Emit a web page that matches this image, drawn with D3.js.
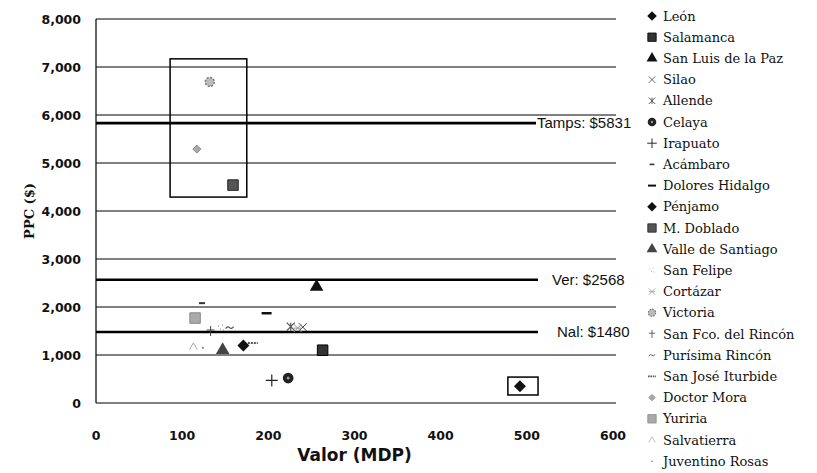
<!DOCTYPE html>
<html><head><meta charset="utf-8">
<script src="https://cdn.jsdelivr.net/npm/d3@7"></script>
<style>
html,body{margin:0;padding:0;background:#fff;}
svg{display:block;}
</style></head>
<body><svg id="c" width="817" height="473"></svg>
<script>
// ---- data ----
const municipios = ["León","Salamanca","San Luis de la Paz","Silao","Allende","Celaya","Irapuato","Acámbaro","Dolores Hidalgo","Pénjamo","M. Doblado","Valle de Santiago","San Felipe","Cortázar","Victoria","San Fco. del Rincón","Purísima Rincón","San José Iturbide","Doctor Mora","Yuriria","Salvatierra","Juventino Rosas"];
const valorMDP = [492,263,256,240,226,223,204,123,198,171,159,147,145,234,132,133,155,182,117,115,113,124];
const ppc      = [350,1100,2420,1580,1590,520,470,2080,1870,1200,4540,1100,1560,1560,6690,1500,1570,1250,5290,1770,1170,1150];
const marcadores = ["diamond","squareDark","triangle","x","asterisk","circle","plus","dashSmall","dash","diamond","squarePat","triangleGray","dots","asteriskLight","gear","plusThin","tilde","dashDot","diamondLight","squareLight","triSmall","dot"];
const xTicks = [0,100,200,300,400,500,600];
const yTicks = [0,1000,2000,3000,4000,5000,6000,7000,8000];
const refNames  = ["Tamps","Ver","Nal"];
const refValues = [5831,2568,1480];
const refLabels = ["Tamps: $5831","Ver: $2568","Nal: $1480"];
const highlightBoxes = [{x0:86,x1:175,y0:4290,y1:7170},{x0:478,x1:513,y0:167,y1:540}];

// ---- layout ----
const svg = d3.select("#c");
const x = d3.scaleLinear().domain([0,600]).range([96,613]);
const y = d3.scaleLinear().domain([0,8000]).range([403,19]);

// gridlines
svg.append("g").selectAll("line").data(yTicks).join("line")
  .attr("x1",x(0)).attr("x2",x(600)+3)
  .attr("y1",d=>y(d)).attr("y2",d=>y(d))
  .attr("stroke","#000").attr("stroke-width",1);

// y axis line
svg.append("line").attr("x1",x(0)).attr("x2",x(0)).attr("y1",y(8000)).attr("y2",y(0))
  .attr("stroke","#000").attr("stroke-width",1.2);

// y tick labels
svg.append("g").selectAll("text").data(yTicks).join("text")
  .attr("x",81).attr("y",d=>y(d)+4.5)
  .attr("text-anchor","end")
  .attr("font-family","DejaVu Sans").attr("font-weight","bold").attr("font-size",12.5)
  .attr("fill","#111")
  .text(d=>d3.format(",")(d));

// x tick labels
svg.append("g").selectAll("text").data(xTicks).join("text")
  .attr("x",d=>x(d)).attr("y",440)
  .attr("text-anchor","middle")
  .attr("font-family","DejaVu Sans").attr("font-weight","bold").attr("font-size",12.5)
  .attr("fill","#111")
  .text(d=>d);

// axis titles
svg.append("text").attr("x",(x(0)+x(600))/2).attr("y",461).attr("text-anchor","middle")
  .attr("font-family","DejaVu Sans").attr("font-weight","bold").attr("font-size",17)
  .attr("fill","#111").text("Valor (MDP)");
svg.append("text").attr("transform","translate(34,"+y(4000)+") rotate(-90)")
  .attr("text-anchor","middle")
  .attr("font-family","DejaVu Serif").attr("font-weight","bold").attr("font-size",13)
  .attr("fill","#111").text("PPC ($)");

// reference lines
const refEnd = [536,538,538];
const refLabelX = [537,552,557];
svg.append("g").selectAll("line").data(refValues).join("line")
  .attr("x1",x(0)).attr("x2",(d,i)=>refEnd[i])
  .attr("y1",d=>y(d)).attr("y2",d=>y(d))
  .attr("stroke","#000").attr("stroke-width",2.6);
svg.append("g").selectAll("text").data(refValues).join("text")
  .attr("x",(d,i)=>refLabelX[i]).attr("y",d=>y(d)+5)
  .attr("font-family","Liberation Sans").attr("font-size",15).attr("fill","#111")
  .text((d,i)=>refLabels[i]);

// highlight boxes
svg.append("g").selectAll("rect").data(highlightBoxes).join("rect")
  .attr("x",d=>x(d.x0)).attr("y",d=>y(d.y1))
  .attr("width",d=>x(d.x1)-x(d.x0)).attr("height",d=>y(d.y0)-y(d.y1))
  .attr("fill","none").attr("stroke","#000").attr("stroke-width",1.5);

// marker drawing
function drawMarker(g, type){
  const sym = (t,s)=>d3.symbol().type(t).size(s)();
  switch(type){
    case "diamond": g.append("path").attr("d","M0,-6L6,0L0,6L-6,0Z").attr("fill","#111"); break;
    case "squareDark": g.append("path").attr("d",sym(d3.symbolSquare,110)).attr("fill","#333").attr("stroke","#000"); break;
    case "squarePat": g.append("path").attr("d",sym(d3.symbolSquare,110)).attr("fill","#555").attr("stroke","#222"); break;
    case "squareLight": g.append("path").attr("d",sym(d3.symbolSquare,110)).attr("fill","#aaa").attr("stroke","#888"); break;
    case "triangle": g.append("path").attr("d",sym(d3.symbolTriangle,80)).attr("fill","#111"); break;
    case "triangleGray": g.append("path").attr("d",sym(d3.symbolTriangle,80)).attr("fill","#444"); break;
    case "triSmall": g.append("path").attr("d","M-4,3L0,-4L4,3").attr("fill","none").attr("stroke","#aaa").attr("stroke-width",1); break;
    case "x": g.append("path").attr("d","M-4,-4L4,4M-4,4L4,-4").attr("stroke","#444").attr("stroke-width",1); break;
    case "asterisk": g.append("path").attr("d","M-4,-4L4,4M-4,4L4,-4M0,-4V4").attr("stroke","#555").attr("stroke-width",1.2); break;
    case "asteriskLight": g.append("path").attr("d","M-4,-4L4,4M-4,4L4,-4M-4,0H4").attr("stroke","#999").attr("stroke-width",1); break;
    case "circle": g.append("path").attr("d",sym(d3.symbolCircle,90)).attr("fill","#222");
                   g.append("circle").attr("r",1.5).attr("fill","#999"); break;
    case "plus": g.append("path").attr("d","M-6,0H6M0,-6V6").attr("stroke","#222").attr("stroke-width",1.2); break;
    case "plusThin": g.append("path").attr("d","M-4,-1H4M0,-5V5").attr("stroke","#444").attr("stroke-width",1); break;
    case "dashSmall": g.append("path").attr("d","M-3,0H3").attr("stroke","#333").attr("stroke-width",2); break;
    case "dash": g.append("path").attr("d","M-5,0H5").attr("stroke","#111").attr("stroke-width",2.5); break;
    case "dashDot": g.append("path").attr("d","M-5,0H5").attr("stroke","#555").attr("stroke-width",2).attr("stroke-dasharray","2,1"); break;
    case "dots": g.append("path").attr("d","M-3,-2h1M1,-3h1M-1,1h1M2,2h1").attr("stroke","#999").attr("stroke-width",1.2); break;
    case "gear": g.append("circle").attr("r",4.5).attr("fill","#bbb").attr("stroke","#777").attr("stroke-width",1.5).attr("stroke-dasharray","2,1.5"); break;
    case "tilde": g.append("path").attr("d","M-4,1Q-2,-2 0,0T4,-1").attr("fill","none").attr("stroke","#555").attr("stroke-width",1.2); break;
    case "diamondLight": g.append("path").attr("d","M0,-4L4,0L0,4L-4,0Z").attr("fill","#aaa").attr("stroke","#888"); break;
    case "dot": g.append("circle").attr("r",1).attr("fill","#777"); break;
  }
}

// points
const pts = svg.append("g");
municipios.forEach((m,i)=>{
  const g = pts.append("g").attr("transform","translate("+x(valorMDP[i])+","+y(ppc[i])+")");
  drawMarker(g, marcadores[i]);
});

// legend
const lg = svg.append("g");
const legY0 = 16, legStep = 21.2;
municipios.forEach((m,i)=>{
  const yy = legY0 + i*legStep;
  const g = lg.append("g").attr("transform","translate(652,"+yy+")");
  const mg = g.append("g").attr("transform","scale(0.8)");
  drawMarker(mg, marcadores[i]);
  g.append("text").attr("x",11).attr("y",4.5)
   .attr("font-family","DejaVu Serif").attr("font-size",13).attr("fill","#111")
   .text(m);
});
</script>
</body></html>
